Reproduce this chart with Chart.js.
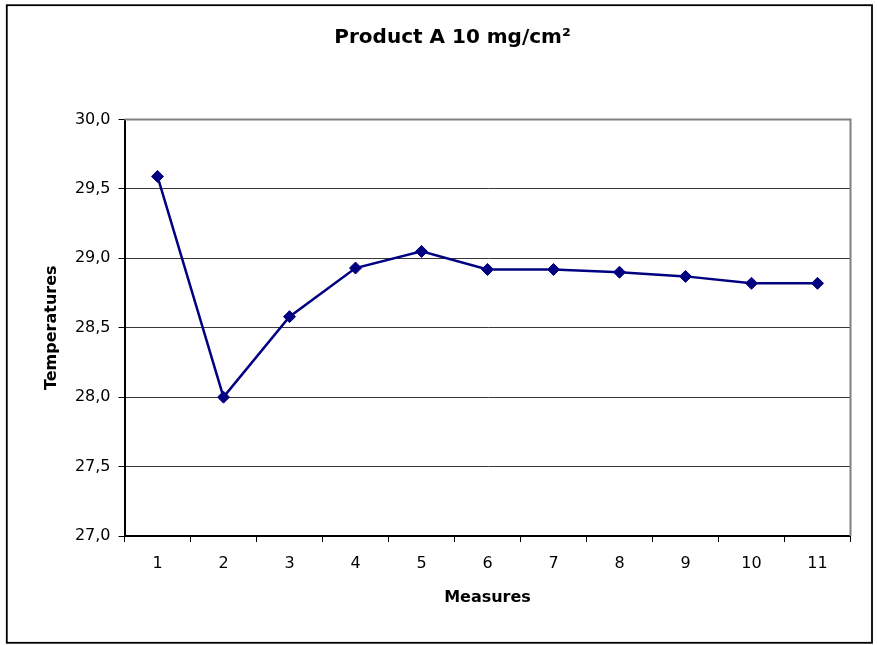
<!DOCTYPE html>
<html>
<head>
<meta charset="utf-8">
<script src="https://cdn.jsdelivr.net/npm/chart.js@4/dist/chart.umd.min.js"></script>
<style>
  html, body { margin: 0; padding: 0; background: #fff; }
  canvas { display: block; }
</style>
</head>
<body>
<canvas id="c" width="877" height="645"></canvas>
<script>
const chartTitle = 'Product A 10 mg/cm²';
const xAxisTitle = 'Measures';
const yAxisTitle = 'Temperatures';
const categories = ['1', '2', '3', '4', '5', '6', '7', '8', '9', '10', '11'];
const temperatures = [29.59, 28.0, 28.58, 28.93, 29.05, 28.92, 28.92, 28.90, 28.87, 28.82, 28.82];
const yTickValues = [27.0, 27.5, 28.0, 28.5, 29.0, 29.5, 30.0];
const yTickLabels = ['27,0', '27,5', '28,0', '28,5', '29,0', '29,5', '30,0'];

const FONT = "'DejaVu Sans', sans-serif";

const framePlugin = {
  id: 'frame',
  beforeDraw(chart) {
    const ctx = chart.ctx;
    ctx.save();
    ctx.fillStyle = '#fff';
    ctx.fillRect(0, 0, chart.width, chart.height);
    ctx.restore();
  },
  beforeDatasetsDraw(chart) {
    const ctx = chart.ctx;
    const a = chart.chartArea;
    ctx.save();
    ctx.strokeStyle = '#808080';
    ctx.lineWidth = 2;
    ctx.beginPath();
    ctx.moveTo(a.left, a.top);
    ctx.lineTo(a.right, a.top);
    ctx.lineTo(a.right, a.bottom);
    ctx.stroke();
    ctx.restore();
  },
  afterDraw(chart) {
    const ctx = chart.ctx;
    ctx.save();
    ctx.strokeStyle = '#000';
    ctx.lineWidth = 1.8;
    ctx.strokeRect(6.8, 5.2, 865.2, 637.6);
    ctx.fillStyle = '#000';
    ctx.font = 'bold 20px ' + FONT;
    ctx.textAlign = 'center';
    ctx.textBaseline = 'alphabetic';
    ctx.fillText(chartTitle, 452.5, 42.5);
    ctx.restore();
  }
};

new Chart(document.getElementById('c'), {
  type: 'line',
  data: {
    labels: categories,
    datasets: [{
      data: temperatures,
      borderColor: '#000080',
      backgroundColor: '#000080',
      borderWidth: 2.5,
      pointStyle: 'rectRot',
      pointRadius: 6,
      pointBorderWidth: 1,
      pointBorderColor: '#000080',
      pointBackgroundColor: '#000080',
      tension: 0,
      fill: false
    }]
  },
  options: {
    responsive: false,
    animation: false,
    devicePixelRatio: 1,
    layout: { padding: { left: 0, top: 119.5, right: 26.5, bottom: 0 } },
    plugins: {
      legend: { display: false },
      title: { display: false },
      tooltip: { enabled: false }
    },
    scales: {
      x: {
        type: 'category',
        offset: true,
        grid: {
          offset: true,
          drawOnChartArea: false,
          drawTicks: true,
          tickLength: 6,
          color: '#000',
          lineWidth: 1
        },
        border: { display: true, color: '#000', width: 2 },
        ticks: {
          color: '#000',
          font: { family: FONT, size: 16 },
          padding: 12,
          maxRotation: 0,
          autoSkip: false
        },
        title: {
          display: true,
          text: xAxisTitle,
          color: '#000',
          font: { family: FONT, size: 16, weight: 'bold' },
          padding: { top: 0, bottom: 37.4 }
        },
        afterFit(scale) { scale.height = 109; }
      },
      y: {
        min: 27,
        max: 30,
        afterBuildTicks(scale) {
          scale.ticks = yTickValues.map(v => ({ value: v }));
        },
        grid: {
          drawOnChartArea: true,
          drawTicks: true,
          tickLength: 6,
          color: (c) => (c.tick && c.tick.value === 30) ? 'rgba(0,0,0,0)' : '#383838',
          tickColor: '#000',
          lineWidth: 1
        },
        border: { display: true, color: '#000', width: 2 },
        ticks: {
          color: '#000',
          font: { family: FONT, size: 16 },
          padding: 8,
          callback: (v, i) => yTickLabels[yTickValues.indexOf(v)] ?? ''
        },
        title: {
          display: true,
          text: yAxisTitle,
          color: '#000',
          font: { family: FONT, size: 16, weight: 'bold' },
          padding: { top: 42, bottom: 0 }
        },
        afterFit(scale) { scale.width = 124.5; }
      }
    }
  },
  plugins: [framePlugin]
});
</script>
</body>
</html>
